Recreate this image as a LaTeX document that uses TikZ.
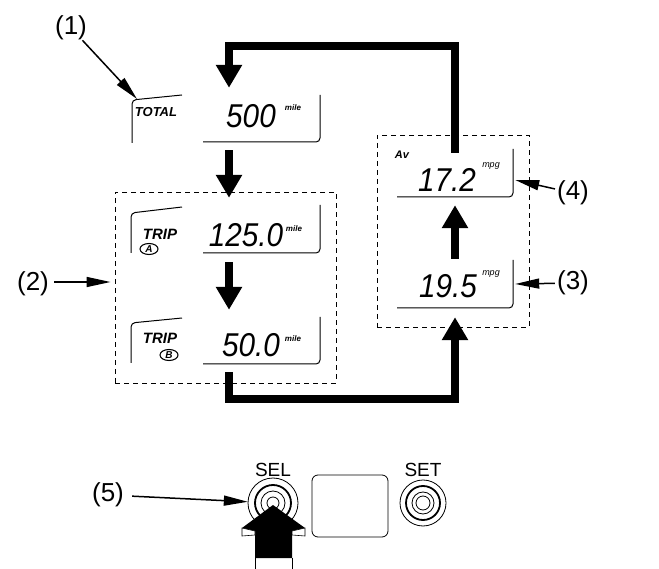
\documentclass[tikz,border=0pt]{standalone}
\usepackage{fontspec}
\setmainfont{Liberation Sans}
\newfontfamily\lcdfont{Liberation Sans}[FakeStretch=0.9]
\usetikzlibrary{arrows.meta,shapes.geometric,positioning}

\begin{document}
\begin{tikzpicture}[x=1pt,y=-1pt,
    flow/.style={line width=8pt, -{Triangle[width=25pt,length=23pt]}},
    callout/.style={line width=1.5pt, -{Triangle[width=10pt,length=24pt]}},
    disp/.style={minimum width=196pt, minimum height=50pt, inner sep=0pt},
    grp/.style={draw, dash pattern=on 5pt off 4pt, line width=0.9pt, inner sep=0pt},
    frame/.style={line width=1pt, rounded corners=4pt},
    lcd/.style={font=\lcdfont\itshape\fontsize{33}{33}\selectfont, inner sep=0pt, anchor=base},
    unit/.style={font=\bfseries\itshape\fontsize{8}{8}\selectfont, inner sep=0pt, anchor=base},
    tag/.style={font=\bfseries\itshape\fontsize{13}{13}\selectfont, inner sep=0pt},
    badge/.style={draw, ellipse, line width=1.1pt, inner sep=0pt, minimum width=18pt, minimum height=11pt, font=\bfseries\itshape\fontsize{10}{10}\selectfont},
    callno/.style={font=\fontsize{26}{30}\selectfont, inner sep=0pt},
    btnlabel/.style={font=\fontsize{19}{22}\selectfont, inner sep=0pt},
    ring/.style={line width=0.8pt},
    thickring/.style={line width=1.8pt}
]
\path[use as bounding box] (0,0) rectangle (659,569);

% dashed groups
\node[grp, minimum width=221pt, minimum height=191pt] (trips) at (225.5,287.5) {};
\node[grp, minimum width=152pt, minimum height=192pt] (mpgs) at (453,231) {};

% displays
\node[disp] (total) at (229,119) {};
\node[disp] (tripa) at (229,230) {};
\node[disp] (tripb) at (229,340) {};
\node[disp, minimum width=120pt] (avg) at (455,173) {};
\node[disp, minimum width=120pt] (cur) at (455,284) {};

% display frames
\draw[frame] (182,95) -- (132,100) -- (132,143);
\draw[frame] (203,142) -- (320,142) -- (320,95);
\draw[frame] (182,207) -- (131,213) -- (131,253);
\draw[frame] (203,253) -- (320,253) -- (320,205);
\draw[frame] (182,318) -- (131,323) -- (131,363);
\draw[frame] (203,364) -- (320,364) -- (320,317);
\draw[frame] (397,197) -- (513,197) -- (513,149);
\draw[frame] (397,308) -- (513,308) -- (513,260);

% readouts
\node[tag] (totaltag) at (156,112) {TOTAL};
\node[lcd] (totalval) at (251,128) {500};
\node[unit] (totalunit) at (293,111) {mile};

\node[tag, font=\bfseries\itshape\fontsize{15}{15}\selectfont] (tripatag) at (160,234) {TRIP};
\node[badge] (tripaletter) at (149,249) {A};
\node[lcd] (tripaval) at (246,247) {125.0};
\node[unit] (tripaunit) at (294,232) {mile};

\node[tag, font=\bfseries\itshape\fontsize{15}{15}\selectfont] (tripbtag) at (160,338) {TRIP};
\node[badge] (tripbletter) at (169,355) {B};
\node[lcd] (tripbval) at (251,357) {50.0};
\node[unit] (tripbunit) at (293,342) {mile};

\node[tag, font=\bfseries\itshape\fontsize{11}{11}\selectfont] (avgtag) at (402,155) {Av};
\node[lcd] (avgval) at (447,192) {17.2};
\node[unit, font=\itshape\fontsize{9}{9}\selectfont] (avgunit) at (491,168) {mpg};
\node[lcd] (curval) at (448,298) {19.5};
\node[unit, font=\itshape\fontsize{9}{9}\selectfont] (curunit) at (491,276) {mpg};

% display order
\coordinate (topturn) at (229,46);
\coordinate (botturn) at (455,399);
\draw[flow, shorten <=6pt, shorten >=7pt] (total) -- (tripa);
\draw[flow, shorten <=7pt, shorten >=5pt] (tripa) -- (tripb);
\draw[flow, shorten >=8pt, shorten <=7pt] (tripb.south) |- (botturn) -- (cur.south);
\draw[flow, shorten >=7pt] (cur) -- (avg);
\draw[flow, shorten >=6pt, shorten <=-5pt] (avg.north) |- (topturn) -- (total.north);

% buttons
\node[circle, minimum size=50pt, inner sep=0pt] (sel) at (273,503) {};
\node[circle, minimum size=46pt, inner sep=0pt] (set) at (423,503) {};
\node[btnlabel] (sellabel) at (273,470) {SEL};
\node[btnlabel] (setlabel) at (423,470) {SET};
\node[draw, rounded corners=6pt, line width=0.8pt, minimum width=76pt, minimum height=62pt] (window) at (350,506) {};

\draw[ring] (sel.center) circle[radius=25];
\draw[thickring] (sel.center) circle[radius=18];
\draw[ring] (sel.center) circle[radius=12];
\draw[ring] (sel.center) circle[radius=6];
\draw[ring] (set.center) circle[radius=23];
\draw[thickring] (set.center) circle[radius=17];
\draw[ring] (set.center) circle[radius=11];
\draw[ring] (set.center) circle[radius=7];

% press arrow
\fill (273,505) -- (305,528) -- (292,531) -- (292,558) -- (255,558) -- (255,531) -- (242,528) -- cycle;
\filldraw[fill=white, line width=0.6pt] (242,528) -- (255,531) -- (255,535) -- (242,536) -- cycle;
\filldraw[fill=white, line width=0.6pt] (305,528) -- (292,531) -- (292,535) -- (305,536) -- cycle;
\draw[line width=0.6pt] (255,558) -- (255,569) (292,558) -- (292,569);

% callouts
\node[callno] (c1) at (71,28) {(1)};
\coordinate (totalcorner) at (137,99);
\draw[callout] (c1) -- (totalcorner);
\node[callno] (c2) at (33,284) {(2)};
\draw[callout, shorten <=5pt, shorten >=4pt] ([yshift=2pt]c2.east) -- ([yshift=2pt]c2.east -| trips.west);
\node[callno] (c3) at (573,283) {(3)};
\draw[callout, shorten <=2pt] (c3) -- (cur.east);
\node[callno] (c4) at (573,193) {(4)};
\draw[callout, shorten <=2pt] (c4) -- ([yshift=-7pt]avg.east);
\node[callno] (c5) at (108,495) {(5)};
\draw[callout, shorten <=8pt] (c5) -- (sel);
\end{tikzpicture}
\end{document}
